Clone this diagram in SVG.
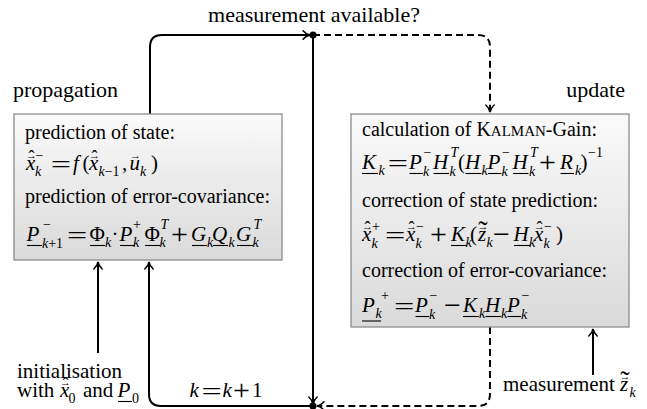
<svg xmlns="http://www.w3.org/2000/svg" width="647" height="409" viewBox="0 0 647 409">
<defs>
<linearGradient id="g" x1="0" y1="0" x2="0" y2="1"><stop offset="0" stop-color="#fafafa"/><stop offset="1" stop-color="#dadada"/></linearGradient>
<marker id="ar" markerUnits="userSpaceOnUse" markerWidth="12" markerHeight="12" viewBox="-9 -6 10 12" refX="0" refY="0" orient="auto"><path d="M-7,-4.2 C-5,-1.8 -2,-0.4 0,0 C-2,0.4 -5,1.8 -7,4.2" fill="none" stroke="#000" stroke-width="1.5" stroke-linecap="round"/></marker>
<style>
.box{fill:url(#g);stroke:#8c8c8c;stroke-width:1.3}
.t{font-family:"Liberation Serif","Times New Roman",serif;font-size:20px;fill:#000}
.lbl{font-family:"Liberation Serif","Times New Roman",serif;font-size:22px;fill:#000}
.lb2{font-family:"Liberation Serif","Times New Roman",serif;font-size:21px;fill:#000}
.m{font-family:"Liberation Serif","Times New Roman",serif;font-size:21px;font-style:italic;fill:#000}
.r{font-style:normal}
.s{font-size:14px}
.eq{font-family:"Liberation Serif","Times New Roman",serif;font-size:24px;fill:#000}
.pl{font-family:"Liberation Serif","Times New Roman",serif;font-size:30px;fill:#000}
.va{font-size:11px;font-style:normal;text-anchor:middle}
.hat{font-size:18px;font-style:normal;text-anchor:middle}
.til{font-size:28px;font-style:normal;text-anchor:middle}
.ul{stroke:#000;stroke-width:1.1}
.c{fill:none;stroke:#000;stroke-width:2}
.d{stroke-dasharray:7 4}
</style>
</defs>

<g id="connectors">
<path class="c" d="M150,114 V47 Q150,35 162,35 H310" marker-end="url(#ar)"/>
<path class="c d" d="M313,35 H478 Q490,35 490,47 V112" marker-end="url(#ar)"/>
<path class="c" d="M313,35 V404" marker-end="url(#ar)"/>
<path class="c d" d="M490,327 V394 Q490,406 478,406 H317" marker-end="url(#ar)"/>
<path class="c" d="M313,406 H161 Q149,406 149,394 V262" marker-end="url(#ar)"/>
<path class="c" d="M98,353 V262" marker-end="url(#ar)"/>
<path class="c" d="M593,375 V329" marker-end="url(#ar)"/>
<circle cx="313" cy="35" r="3.6" fill="#000"/>
<circle cx="313" cy="406" r="3.6" fill="#000"/>
</g>

<g id="label-measurement-available">
<text class="lbl" x="314" y="22" text-anchor="middle">measurement available?</text>
</g>

<g id="propagation">
<text class="lbl" x="13" y="97">propagation</text>
<rect class="box" x="14" y="114" width="268" height="146"/>
<text class="t" x="25" y="139">prediction of state:</text>
<text class="m"><tspan x="26" y="170">x</tspan><tspan class="s" x="35" y="176">k</tspan><tspan class="s r" x="35.5" y="160">−</tspan><tspan x="73" y="170">f</tspan><tspan class="r" x="82.5" y="170">(</tspan><tspan x="89" y="170">x</tspan><tspan class="s" x="98.5" y="176">k</tspan><tspan class="s r">−1</tspan><tspan class="r" x="122" y="170">,</tspan><tspan x="129.5" y="170">u</tspan><tspan class="s" x="140" y="176">k</tspan><tspan class="r" x="151" y="170">)</tspan><tspan class="va" x="31.5" y="159.3">→</tspan><tspan class="hat" x="31.5" y="163">ˆ</tspan><tspan class="va" x="94.5" y="159.3">→</tspan><tspan class="hat" x="94.5" y="163">ˆ</tspan><tspan class="va" x="135.5" y="159.3">→</tspan></text>
<text class="eq" transform="translate(50.8 171.5) scale(1.5 1)">=</text>
<text class="t" x="25" y="203">prediction of error-covariance:</text>
<text class="m"><tspan x="26.5" y="241">P</tspan><tspan class="s" x="42" y="248">k</tspan><tspan class="s r">+1</tspan><tspan class="s r" x="43" y="229">−</tspan><tspan class="r" x="89.5" y="241">Φ</tspan><tspan class="s" x="105" y="247">k</tspan><tspan class="r" x="111.4" y="241">·</tspan><tspan x="119.5" y="241">P</tspan><tspan class="s" x="133" y="247">k</tspan><tspan class="s r" x="133" y="229">+</tspan><tspan class="r" x="144.5" y="241">Φ</tspan><tspan class="s" x="159.5" y="247">k</tspan><tspan class="s" x="160.5" y="229">T</tspan><tspan x="191" y="241">G</tspan><tspan class="s" x="207" y="247">k</tspan><tspan x="212" y="241">Q</tspan><tspan class="s" x="228.5" y="247">k</tspan><tspan x="236" y="241">G</tspan><tspan class="s" x="252.5" y="247">k</tspan><tspan class="s" x="253.5" y="229">T</tspan></text>
<text class="eq" transform="translate(67 242.5) scale(1.5 1)">=</text>
<text class="pl" x="171" y="243.5">+</text>
<line class="ul" x1="27" y1="245.5" x2="42" y2="245.5"/>
<line class="ul" x1="90" y1="245.5" x2="105" y2="245.5"/>
<line class="ul" x1="120" y1="245.5" x2="135" y2="245.5"/>
<line class="ul" x1="145" y1="245.5" x2="160" y2="245.5"/>
<line class="ul" x1="192" y1="245.5" x2="207" y2="245.5"/>
<line class="ul" x1="213" y1="245.5" x2="228" y2="245.5"/>
<line class="ul" x1="237" y1="245.5" x2="253" y2="245.5"/>
</g>

<g id="update">
<text class="lbl" x="625" y="97" text-anchor="end">update</text>
<rect class="box" x="351" y="114" width="278" height="213"/>
<text class="t" x="362" y="136">calculation of K<tspan font-size="15">ALMAN</tspan>-Gain:</text>
<text class="m"><tspan x="362" y="169">K</tspan><tspan class="s" x="378.5" y="175">k</tspan><tspan x="409" y="169">P</tspan><tspan class="s" x="423" y="176">k</tspan><tspan class="s r" x="423.5" y="157">−</tspan><tspan x="433" y="169">H</tspan><tspan class="s" x="449.5" y="176">k</tspan><tspan class="s" x="450.5" y="157">T</tspan><tspan class="r" x="458" y="169">(</tspan><tspan x="465" y="169">H</tspan><tspan class="s" x="481.5" y="175">k</tspan><tspan x="487.5" y="169">P</tspan><tspan class="s" x="501.5" y="176">k</tspan><tspan class="s r" x="502" y="157">−</tspan><tspan x="512.5" y="169">H</tspan><tspan class="s" x="529" y="176">k</tspan><tspan class="s" x="530" y="157">T</tspan><tspan x="560" y="169">R</tspan><tspan class="s" x="575" y="175">k</tspan><tspan class="r" x="580.5" y="169">)</tspan><tspan class="s r" x="588" y="157">−1</tspan></text>
<text class="eq" transform="translate(387.7 170.5) scale(1.5 1)">=</text>
<text class="pl" x="539" y="171.5">+</text>
<line class="ul" x1="362" y1="173.5" x2="378" y2="173.5"/>
<line class="ul" x1="409.5" y1="173.5" x2="423" y2="173.5"/>
<line class="ul" x1="433.5" y1="173.5" x2="449" y2="173.5"/>
<line class="ul" x1="465.5" y1="173.5" x2="481.5" y2="173.5"/>
<line class="ul" x1="488" y1="173.5" x2="501.5" y2="173.5"/>
<line class="ul" x1="513" y1="173.5" x2="528.5" y2="173.5"/>
<line class="ul" x1="560.5" y1="173.5" x2="574" y2="173.5"/>
<text class="t" x="362" y="207">correction of state prediction:</text>
<text class="m"><tspan x="362" y="241">x</tspan><tspan class="s" x="371.5" y="247.5">k</tspan><tspan class="s r" x="372" y="231">+</tspan><tspan x="406" y="241">x</tspan><tspan class="s" x="415.5" y="247.5">k</tspan><tspan class="s r" x="416" y="231">−</tspan><tspan x="451" y="241">K</tspan><tspan class="s" x="465.5" y="247">k</tspan><tspan class="r" x="470" y="241">(</tspan><tspan x="478" y="241">z</tspan><tspan class="s" x="486.5" y="247">k</tspan><tspan x="513.5" y="241">H</tspan><tspan class="s" x="529" y="247">k</tspan><tspan x="534" y="241">x</tspan><tspan class="s" x="543.5" y="247.5">k</tspan><tspan class="s r" x="544" y="231">−</tspan><tspan class="r" x="556" y="241">)</tspan><tspan class="va" x="367.5" y="230.3">→</tspan><tspan class="hat" x="367.5" y="234">ˆ</tspan><tspan class="va" x="411.5" y="230.3">→</tspan><tspan class="hat" x="411.5" y="234">ˆ</tspan><tspan class="va" x="539.5" y="230.3">→</tspan><tspan class="hat" x="539.5" y="234">ˆ</tspan><tspan class="va" x="483" y="230.3">→</tspan><tspan class="til" x="483" y="239.5">˜</tspan></text>
<text class="eq" transform="translate(385 242.5) scale(1.5 1)">=</text>
<text class="pl" x="430" y="243.5">+</text>
<text class="pl" x="493" y="243.5">−</text>
<line class="ul" x1="451" y1="245.5" x2="467" y2="245.5"/>
<line class="ul" x1="514" y1="245.5" x2="530" y2="245.5"/>
<text class="t" x="362" y="277">correction of error-covariance:</text>
<text class="m"><tspan x="362" y="312">P</tspan><tspan class="s" x="375.5" y="318">k</tspan><tspan class="s r" x="381" y="300">+</tspan><tspan x="415" y="312">P</tspan><tspan class="s" x="429" y="319">k</tspan><tspan class="s r" x="429.5" y="300">−</tspan><tspan x="463" y="312">K</tspan><tspan class="s" x="479" y="318">k</tspan><tspan x="485" y="312">H</tspan><tspan class="s" x="501" y="318">k</tspan><tspan x="507" y="312">P</tspan><tspan class="s" x="521" y="319">k</tspan><tspan class="s r" x="521.5" y="300">−</tspan></text>
<text class="eq" transform="translate(394 313.5) scale(1.5 1)">=</text>
<text class="pl" x="444" y="314.5">−</text>
<line class="ul" x1="362" y1="321" x2="381" y2="321"/>
<line class="ul" x1="415.5" y1="316.5" x2="429" y2="316.5"/>
<line class="ul" x1="463" y1="316.5" x2="479" y2="316.5"/>
<line class="ul" x1="485.5" y1="316.5" x2="501" y2="316.5"/>
<line class="ul" x1="507.5" y1="316.5" x2="521" y2="316.5"/>
</g>

<g id="initialisation">
<text class="lb2" x="17" y="378">initialisation</text>
<text class="lb2"><tspan x="17" y="397">with</tspan><tspan font-style="italic" x="60" y="397">x</tspan><tspan class="s" x="68.5" y="403">0</tspan><tspan x="83" y="397">and</tspan><tspan font-style="italic" x="117.5" y="397">P</tspan><tspan class="s" x="132" y="403">0</tspan><tspan class="va" x="65.5" y="386.3">→</tspan><tspan class="hat" x="65.5" y="390">ˆ</tspan></text>
<line class="ul" x1="118" y1="401.5" x2="132" y2="401.5"/>
</g>

<g id="loop-label">
<text class="m"><tspan x="189.5" y="397">k</tspan><tspan x="222.5" y="397">k</tspan><tspan class="r" x="252" y="397">1</tspan></text>
<text class="eq" transform="translate(201.5 398.5) scale(1.5 1)">=</text>
<text class="pl" x="233" y="399.5">+</text>
</g>

<g id="measurement">
<text class="lb2" x="503" y="391">measurement</text>
<text class="m"><tspan x="620" y="391">z</tspan><tspan class="s" x="629.5" y="397">k</tspan><tspan class="va" x="625" y="380.3">→</tspan><tspan class="til" x="625" y="389.5">˜</tspan></text>
</g>
</svg>
